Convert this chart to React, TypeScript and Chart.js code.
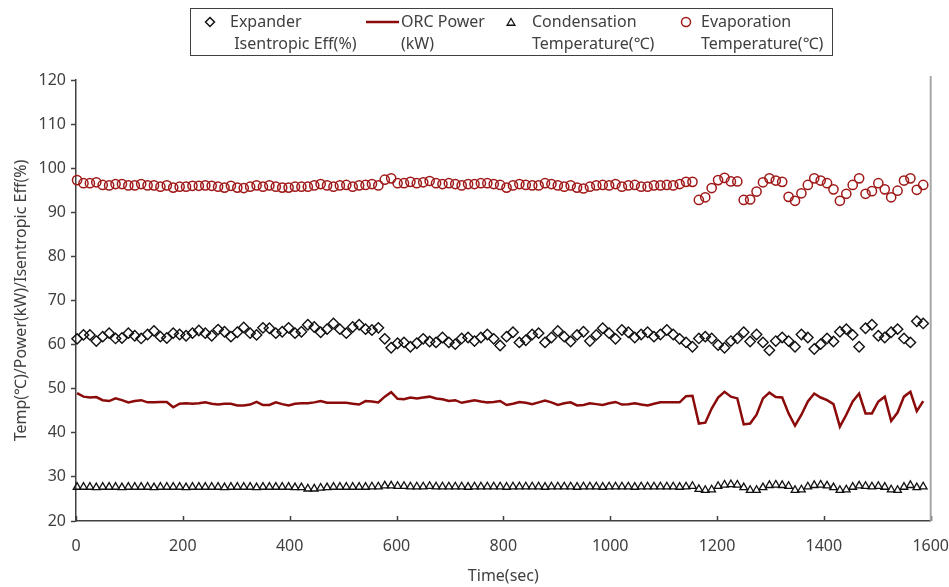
import React, { useEffect, useRef } from 'react';
import { Chart, registerables } from 'chart.js';

Chart.register(...registerables);

// Sampling instants (s)
const TIME_SEC = [
  2, 14, 26, 38, 50, 62, 74, 86, 98, 110,
  122, 134, 146, 158, 170, 182, 194, 206, 218, 230,
  242, 254, 266, 278, 290, 302, 314, 326, 338, 350,
  362, 374, 386, 398, 410, 422, 434, 446, 458, 470,
  482, 494, 506, 518, 530, 542, 554, 566, 578, 590,
  602, 614, 626, 638, 650, 662, 674, 686, 698, 710,
  722, 734, 746, 758, 770, 782, 794, 806, 818, 830,
  842, 854, 866, 878, 890, 902, 914, 926, 938, 950,
  962, 974, 986, 998, 1010, 1022, 1034, 1046, 1058, 1070,
  1082, 1094, 1106, 1118, 1130, 1142, 1154, 1166, 1178, 1190,
  1202, 1214, 1226, 1238, 1250, 1262, 1274, 1286, 1298, 1310,
  1322, 1334, 1346, 1358, 1370, 1382, 1394, 1406, 1418, 1430,
  1442, 1454, 1466, 1478, 1490, 1502, 1514, 1526, 1538, 1550,
  1562, 1574, 1586,
];

// Expander isentropic efficiency (%)
const EXPANDER_EFF = [
  61.3, 62.2, 62.2, 60.8, 61.8, 62.6, 61.4, 61.5, 62.6, 62.0,
  61.4, 62.3, 63.1, 61.8, 61.5, 62.6, 62.3, 62.0, 62.6, 63.2,
  62.6, 62.0, 63.4, 62.9, 61.8, 62.8, 63.9, 62.6, 62.2, 63.8,
  63.7, 62.6, 62.9, 63.8, 62.6, 62.9, 64.5, 64.0, 62.8, 63.5,
  64.8, 63.5, 62.6, 64.0, 64.5, 63.5, 63.3, 63.8, 61.3, 59.3,
  60.3, 60.5, 59.5, 60.3, 61.3, 60.7, 60.5, 61.6, 60.5, 60.1,
  61.4, 61.6, 60.8, 61.6, 62.3, 61.3, 59.8, 61.8, 62.8, 60.5,
  61.0, 62.3, 62.6, 60.5, 61.6, 63.1, 61.8, 60.7, 62.2, 62.9,
  60.8, 62.2, 63.7, 62.6, 61.3, 63.3, 62.8, 61.6, 62.3, 62.8,
  61.8, 62.3, 63.3, 62.3, 61.3, 60.5, 59.5, 61.4, 61.8, 61.4,
  59.9, 59.3, 60.8, 61.4, 62.8, 60.7, 62.3, 60.5, 58.7, 60.8,
  61.6, 60.8, 59.5, 62.3, 61.6, 59.0, 60.1, 61.4, 60.7, 62.9,
  63.5, 62.2, 59.5, 63.7, 64.5, 62.0, 61.6, 62.8, 63.5, 61.4,
  60.5, 65.3, 64.8,
];

// ORC net power (kW)
const ORC_POWER = [
  49.0, 48.2, 48.0, 48.1, 47.4, 47.2, 47.8, 47.4, 46.9, 47.2,
  47.4, 46.9, 46.9, 47.0, 47.0, 45.8, 46.6, 46.7, 46.6, 46.7,
  46.9, 46.6, 46.4, 46.6, 46.6, 46.2, 46.2, 46.4, 47.0, 46.3,
  46.3, 46.9, 46.5, 46.2, 46.6, 46.7, 46.7, 46.9, 47.2, 46.8,
  46.8, 46.8, 46.8, 46.6, 46.4, 47.2, 47.1, 46.9, 48.2, 49.2,
  47.7, 47.6, 48.0, 47.8, 48.0, 48.2, 47.8, 47.6, 47.2, 47.4,
  46.8, 47.1, 47.4, 47.1, 46.9, 47.0, 47.2, 46.3, 46.6, 47.0,
  46.8, 46.5, 46.9, 47.3, 46.9, 46.3, 46.7, 46.9, 46.2, 46.3,
  46.7, 46.5, 46.3, 46.7, 47.0, 46.4, 46.5, 46.7, 46.4, 46.2,
  46.6, 46.9, 46.9, 46.9, 46.9, 48.3, 48.4, 42.1, 42.3, 45.5,
  48.0, 49.3, 48.2, 47.8, 41.9, 42.1, 44.1, 47.8, 49.1, 48.1,
  48.0, 44.4, 41.6, 44.1, 47.1, 48.9, 48.0, 47.4, 46.5, 41.4,
  44.1, 47.1, 48.9, 44.4, 44.4, 47.1, 48.2, 42.7, 44.6, 48.2,
  49.3, 44.9, 47.2,
];

// Condensation temperature (°C)
const CONDENSATION_T = [
  27.7, 27.7, 27.7, 27.6, 27.7, 27.7, 27.7, 27.6, 27.7, 27.7,
  27.7, 27.7, 27.6, 27.7, 27.7, 27.7, 27.7, 27.6, 27.7, 27.7,
  27.7, 27.7, 27.7, 27.6, 27.7, 27.7, 27.7, 27.7, 27.6, 27.7,
  27.7, 27.7, 27.7, 27.7, 27.6, 27.6, 27.3, 27.3, 27.5, 27.6,
  27.7, 27.7, 27.7, 27.7, 27.7, 27.7, 27.8, 27.8, 28.0, 28.0,
  27.9, 27.9, 27.8, 27.8, 27.8, 27.9, 27.8, 27.8, 27.8, 27.8,
  27.8, 27.7, 27.8, 27.8, 27.8, 27.8, 27.8, 27.7, 27.8, 27.8,
  27.8, 27.8, 27.8, 27.7, 27.8, 27.8, 27.8, 27.8, 27.7, 27.8,
  27.8, 27.8, 27.7, 27.8, 27.8, 27.8, 27.8, 27.7, 27.8, 27.8,
  27.8, 27.8, 27.8, 27.8, 27.7, 27.8, 27.9, 27.2, 27.0, 27.1,
  27.9, 28.2, 28.3, 28.2, 27.6, 27.0, 27.0, 27.6, 28.1, 28.2,
  28.1, 27.9, 27.0, 27.1, 27.8, 28.1, 28.2, 28.0, 27.6, 27.0,
  27.1, 27.7, 28.0, 27.9, 27.8, 27.9, 27.7, 27.1, 27.0, 27.7,
  28.1, 27.6, 27.8,
];

// Evaporation temperature (°C)
const EVAPORATION_T = [
  97.3, 96.6, 96.6, 96.8, 96.2, 96.1, 96.4, 96.4, 96.1, 96.1,
  96.4, 96.1, 96.1, 95.8, 96.1, 95.6, 95.8, 95.8, 96.0, 96.0,
  96.1, 96.0, 95.8, 95.6, 96.0, 95.6, 95.5, 95.8, 96.1, 95.8,
  96.1, 95.8, 95.6, 95.6, 95.8, 95.8, 95.8, 96.1, 96.4, 96.1,
  95.8, 96.1, 96.2, 95.8, 96.1, 96.2, 96.4, 96.1, 97.4, 97.7,
  96.6, 96.6, 96.9, 96.6, 96.8, 97.1, 96.6, 96.4, 96.6, 96.4,
  96.1, 96.4, 96.4, 96.6, 96.6, 96.4, 96.2, 95.6, 96.1, 96.4,
  96.2, 96.1, 96.1, 96.6, 96.4, 96.1, 95.8, 96.1, 95.6, 95.4,
  95.8, 96.1, 96.2, 96.1, 96.4, 95.8, 96.1, 96.2, 95.8, 95.8,
  96.1, 96.1, 96.2, 96.1, 96.4, 96.9, 96.9, 92.8, 93.4, 95.5,
  97.3, 97.8, 97.0, 97.0, 92.8, 92.9, 94.7, 96.8, 97.7, 97.2,
  96.9, 93.5, 92.6, 94.3, 96.2, 97.7, 97.2, 96.6, 95.2, 92.6,
  94.2, 96.2, 97.7, 94.2, 94.8, 96.6, 95.2, 93.4, 94.9, 97.2,
  97.7, 95.1, 96.2,
];

const X_TICKS = [0, 200, 400, 600, 800, 1000, 1200, 1400, 1600];
const Y_TICKS = [20, 30, 40, 50, 60, 70, 80, 90, 100, 110, 120];

const SERIES_LABELS = [
  ['Expander', ' Isentropic Eff(%)'],
  ['ORC Power', '(kW)'],
  ['Condensation', 'Temperature(\u2103)'],
  ['Evaporation', 'Temperature(\u2103)'],
];

const X_TITLE = 'Time(sec)';
const Y_TITLE = 'Temp(\u2103)/Power(kW)/Isentropic Eff(%)';

const FONT = '"Noto Sans", "Open Sans", sans-serif';
const TEXT = '#404040';
const AXIS = '#404040';
const BLACK = '#111111';
const RED_LINE = '#8b0a0a';
const RED_MARK = '#a01818';

const toPoints = (ys: number[]) => TIME_SEC.map((t, i) => ({ x: t, y: ys[i] }));

function diamond(ctx: CanvasRenderingContext2D, x: number, y: number, r: number) {
  ctx.beginPath();
  ctx.moveTo(x, y - r);
  ctx.lineTo(x + r, y);
  ctx.lineTo(x, y + r);
  ctx.lineTo(x - r, y);
  ctx.closePath();
  ctx.stroke();
}

function triangle(ctx: CanvasRenderingContext2D, x: number, y: number, r: number) {
  const s = Math.sin(Math.PI / 3) * r;
  ctx.beginPath();
  ctx.moveTo(x, y - r);
  ctx.lineTo(x + s, y + r / 2);
  ctx.lineTo(x - s, y + r / 2);
  ctx.closePath();
  ctx.stroke();
}

// Draws the boxed legend, the inward x tick marks and the right frame edge
const decorations = {
  id: 'decorations',
  afterDraw(chart: any) {
    const { ctx, chartArea: a, scales } = chart;
    ctx.save();

    ctx.strokeStyle = AXIS;
    ctx.lineWidth = 1.5;
    for (const v of X_TICKS) {
      const px = Math.round(scales.x.getPixelForValue(v)) + 0.5;
      ctx.beginPath();
      ctx.moveTo(px, a.bottom);
      ctx.lineTo(px, a.bottom - 5);
      ctx.stroke();
    }

    ctx.strokeStyle = '#a6a6a6';
    ctx.lineWidth = 2;
    ctx.beginPath();
    ctx.moveTo(a.right, a.top - 4);
    ctx.lineTo(a.right, a.bottom);
    ctx.stroke();

    // legend
    ctx.strokeStyle = '#404040';
    ctx.lineWidth = 1;
    ctx.strokeRect(190.5, 8.5, 642, 47);

    ctx.font = `16px ${FONT}`;
    ctx.fillStyle = TEXT;
    ctx.textBaseline = 'middle';
    ctx.textAlign = 'left';
    const y1 = 22;
    const y2 = 44;

    ctx.strokeStyle = BLACK;
    ctx.lineWidth = 1.5;
    diamond(ctx, 210, y1, 4.5);
    ctx.fillText(SERIES_LABELS[0][0], 230, y1);
    ctx.fillText(SERIES_LABELS[0][1], 230, y2);

    ctx.strokeStyle = RED_LINE;
    ctx.lineWidth = 2.5;
    ctx.beginPath();
    ctx.moveTo(366, y1);
    ctx.lineTo(399, y1);
    ctx.stroke();
    ctx.fillText(SERIES_LABELS[1][0], 401, y1);
    ctx.fillText(SERIES_LABELS[1][1], 401, y2);

    ctx.strokeStyle = BLACK;
    ctx.lineWidth = 1.3;
    triangle(ctx, 511, y1 + 1, 4.5);
    ctx.fillText(SERIES_LABELS[2][0], 532, y1);
    ctx.fillText(SERIES_LABELS[2][1], 532, y2);

    ctx.strokeStyle = RED_MARK;
    ctx.lineWidth = 1.5;
    ctx.beginPath();
    ctx.arc(686, y1, 4.5, 0, Math.PI * 2);
    ctx.stroke();
    ctx.fillText(SERIES_LABELS[3][0], 701, y1);
    ctx.fillText(SERIES_LABELS[3][1], 701, y2);

    ctx.restore();
  },
};

export default function App() {
  const canvasRef = useRef<HTMLCanvasElement | null>(null);

  useEffect(() => {
    const canvas = canvasRef.current;
    if (!canvas) return;
    const chart = new Chart(canvas, {
      type: 'line',
      data: {
        datasets: [
          {
            label: SERIES_LABELS[0].join(' '),
            data: toPoints(EXPANDER_EFF),
            showLine: false,
            pointStyle: 'rectRot',
            pointRadius: 5.2,
            pointBorderWidth: 1.4,
            pointBorderColor: BLACK,
            pointBackgroundColor: 'rgba(255,255,255,0)',
            clip: false,
          },
          {
            label: SERIES_LABELS[1].join(' '),
            data: toPoints(ORC_POWER),
            borderColor: RED_LINE,
            borderWidth: 2.5,
            pointRadius: 0,
            tension: 0,
            clip: false,
          },
          {
            label: SERIES_LABELS[2].join(' '),
            data: toPoints(CONDENSATION_T),
            showLine: false,
            pointStyle: 'triangle',
            pointRadius: 4.4,
            pointBorderWidth: 1.3,
            pointBorderColor: BLACK,
            pointBackgroundColor: 'rgba(255,255,255,0)',
            clip: false,
          },
          {
            label: SERIES_LABELS[3].join(' '),
            data: toPoints(EVAPORATION_T),
            showLine: false,
            pointStyle: 'circle',
            pointRadius: 4.6,
            pointBorderWidth: 1.5,
            pointBorderColor: RED_MARK,
            pointBackgroundColor: 'rgba(255,255,255,0)',
            clip: false,
          },
        ],
      },
      options: {
        responsive: false,
        animation: false,
        events: [],
        layout: { padding: { left: 0, top: 80, right: 17, bottom: 0 } },
        plugins: {
          legend: { display: false },
          tooltip: { enabled: false },
        },
        scales: {
          x: {
            type: 'linear',
            min: 0,
            max: 1600,
            afterFit: (s: any) => {
              s.height = 66;
            },
            afterBuildTicks: (s: any) => {
              s.ticks = X_TICKS.map((v) => ({ value: v }));
            },
            // invisible tick marks provide the gap between axis and labels
            grid: {
              drawOnChartArea: false,
              drawTicks: true,
              tickLength: 16,
              tickColor: 'rgba(0,0,0,0)',
            },
            border: { display: true, color: AXIS, width: 1.5 },
            ticks: {
              color: TEXT,
              font: { family: FONT, size: 16 },
              padding: 0,
              maxRotation: 0,
              callback: (v: any) => String(v),
            },
            title: {
              display: true,
              text: X_TITLE,
              color: TEXT,
              font: { family: FONT, size: 16 },
              padding: { top: 0, bottom: 1 },
            },
          },
          y: {
            type: 'linear',
            min: 20,
            max: 120,
            afterFit: (s: any) => {
              s.width = 76;
            },
            afterBuildTicks: (s: any) => {
              s.ticks = Y_TICKS.map((v) => ({ value: v }));
            },
            grid: {
              drawOnChartArea: false,
              drawTicks: true,
              tickLength: 5,
              tickColor: AXIS,
              tickWidth: 1.5,
            },
            border: { display: true, color: AXIS, width: 1.5 },
            ticks: {
              color: TEXT,
              font: { family: FONT, size: 16 },
              padding: 5,
              callback: (v: any) => String(v),
            },
            title: {
              display: true,
              text: Y_TITLE,
              color: TEXT,
              font: { family: FONT, size: 16 },
              padding: { top: 12, bottom: 0 },
            },
          },
        },
      },
      plugins: [decorations],
    });
    return () => chart.destroy();
  }, []);

  return (
    <div style={{ position: 'absolute', left: 0, top: 0, width: 949, height: 587, background: '#fff' }}>
      <canvas ref={canvasRef} width={949} height={587} style={{ display: 'block', width: 949, height: 587 }} />
    </div>
  );
}
